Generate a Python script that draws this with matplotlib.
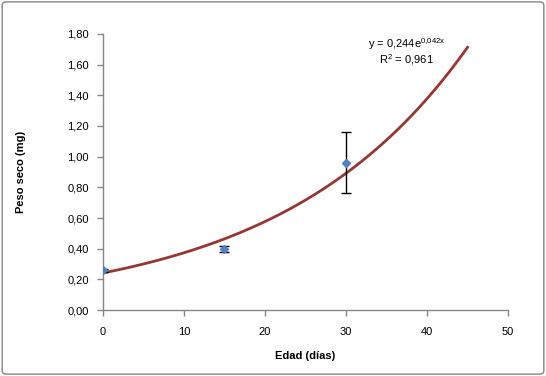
import numpy as np
import matplotlib
matplotlib.use("Agg")
import matplotlib.pyplot as plt
from matplotlib.patches import FancyBboxPatch

# Data
edad = [0, 15, 30]
peso = [0.26, 0.40, 0.96]
error = [0.01, 0.02, 0.20]
fit_range = [0, 45]
x_ticks = [0, 10, 20, 30, 40, 50]
y_ticks = [0.0, 0.2, 0.4, 0.6, 0.8, 1.0, 1.2, 1.4, 1.6, 1.8]
eq_text = r"y = 0,244e$^{\mathregular{0{,}042x}}$"
r2_text = r"R$^{\mathregular{2}}$ = 0,961"

plt.rcParams['font.family'] = ['Liberation Sans', 'DejaVu Sans']

fig = plt.figure(figsize=(5.46, 3.76), dpi=100)
ax = fig.add_axes([0.1886, 0.1755, 0.7418, 0.7341])

# Exponential trendline fitted on log data
b, a = np.polyfit(edad, np.log(peso), 1)
xs = np.linspace(fit_range[0], fit_range[1], 200)
ax.plot(xs, np.exp(a) * np.exp(b * xs), color='#953735', lw=2, zorder=2)

ax.errorbar(edad, peso, yerr=error, fmt='D', color='#4F81BD', ms=4.5,
            ecolor='black', elinewidth=1, capsize=3.5, capthick=1, zorder=3)

ax.set_xlim(0, 50)
ax.set_ylim(0, 1.8)
ax.set_xticks(x_ticks)
ax.set_yticks(y_ticks)
ax.set_xticklabels([str(t) for t in x_ticks])
ax.set_yticklabels([f"{t:.2f}".replace('.', ',') for t in y_ticks])
for s in ['top', 'right']:
    ax.spines[s].set_visible(False)
for s in ['left', 'bottom']:
    ax.spines[s].set_color('#868686')
    ax.spines[s].set_linewidth(1)
ax.tick_params(axis='both', colors='#868686', labelcolor='black', labelsize=8,
               length=4, width=1, direction='out')
ax.tick_params(axis='x', pad=8)
ax.tick_params(axis='y', pad=6)

ax.set_xlabel("Edad (días)", fontsize=8, fontweight='bold', labelpad=10)
ax.set_ylabel("Peso seco (mg)", fontsize=8, fontweight='bold', labelpad=30)

ax.text(0.75, 0.964, eq_text, transform=ax.transAxes, fontsize=8, ha='center', va='center')
ax.text(0.75, 0.906, r2_text, transform=ax.transAxes, fontsize=8, ha='center', va='center')

border = FancyBboxPatch((0.004, 0.005), 0.992, 0.99, boxstyle="round,pad=0,rounding_size=0.008",
                        transform=fig.transFigure, fill=False, edgecolor='#868686', lw=1)
fig.patches.append(border)

fig.savefig("out.png", dpi=100)
